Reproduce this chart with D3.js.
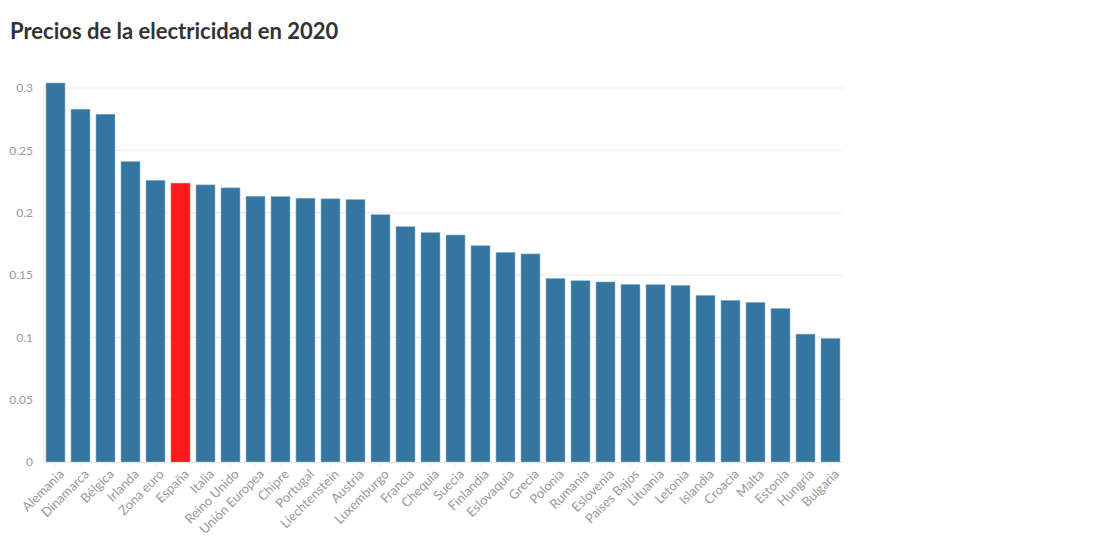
<!DOCTYPE html>
<html><head><meta charset="utf-8">
<script src="https://cdn.jsdelivr.net/npm/d3@7"></script>
<style>
body{margin:0;background:#fff;}
svg{display:block;font-family:Lato, "Open Sans", sans-serif;}
</style></head>
<body>
<svg id="chart" width="1119" height="537"></svg>
<script>
const categories = ["Alemania","Dinamarca","Bélgica","Irlanda","Zona euro","España","Italia","Reino Unido","Unión Europea","Chipre","Portugal","Liechtenstein","Austria","Luxemburgo","Francia","Chequia","Suecia","Finlandia","Eslovaquia","Grecia","Polonia","Rumanía","Eslovenia","Países Bajos","Lituania","Letonia","Islandia","Croacia","Malta","Estonia","Hungría","Bulgaria"];
const prices = [0.304,0.283,0.279,0.241,0.226,0.2237,0.2223,0.2199,0.2132,0.2129,0.2116,0.2111,0.2105,0.1984,0.1888,0.184,0.1821,0.1735,0.1682,0.1669,0.1473,0.1454,0.1444,0.1425,0.1422,0.1417,0.1337,0.1297,0.1281,0.1232,0.1026,0.0991];
const yTicks = [0,0.05,0.1,0.15,0.2,0.25,0.3];
const highlight = "España";
const title = "Precios de la electricidad en 2020";

const svg = d3.select("#chart");
const m = {left:43, right:1119-843, top:60, bottom:537-462};
const W = 1119, H = 537;

svg.append("text").attr("x",10).attr("y",39)
  .attr("font-size",22).attr("font-weight",700).attr("fill","#333")
  .text(title);

const x = d3.scaleBand().domain(categories).range([m.left, W-m.right]).paddingInner(0.24).paddingOuter(0.12);
const y = d3.scaleLinear().domain([0,0.3]).range([H-m.bottom, 88]);

// grid
svg.append("g").selectAll("line").data(yTicks.filter(d=>d>0)).join("line")
  .attr("x1",m.left).attr("x2",W-m.right)
  .attr("y1",d=>y(d)).attr("y2",d=>y(d))
  .attr("stroke","#ebebeb").attr("stroke-width",1);

// y axis
const ya = svg.append("g").attr("transform",`translate(${m.left},0)`)
  .call(d3.axisLeft(y).tickValues(yTicks).tickFormat(d=>String(d)).tickSize(0).tickPadding(10));
ya.select(".domain").attr("stroke","#ebebeb");
ya.selectAll("text").attr("fill","#999").attr("font-size",12).attr("font-family","Lato, sans-serif");

// bars
svg.append("g").selectAll("rect").data(categories).join("rect")
  .attr("x",d=>x(d)).attr("width",x.bandwidth())
  .attr("y",(d,i)=>y(prices[i])).attr("height",(d,i)=>y(0)-y(prices[i]))
  .attr("fill",d=>d===highlight?"#fe1a1a":"#34769f")
  .attr("stroke",d=>d===highlight?"#ff6a6a":"#8fb6cf").attr("stroke-width",0.6);

// x axis
const xa = svg.append("g").attr("transform",`translate(0,${y(0)})`)
  .call(d3.axisBottom(x).tickSize(5).tickPadding(3));
xa.select(".domain").attr("stroke","#e6e6e6").attr("d",`M${m.left},0.5H${W-m.right}`);
xa.selectAll(".tick line").attr("stroke","#eeeeee");
xa.selectAll("text").attr("fill","#999").attr("font-size",13).attr("font-family","Lato, sans-serif")
  .attr("text-anchor","end").attr("dx","-0.2em").attr("dy","0.6em")
  .attr("transform","rotate(-45)");
</script>
</body></html>
